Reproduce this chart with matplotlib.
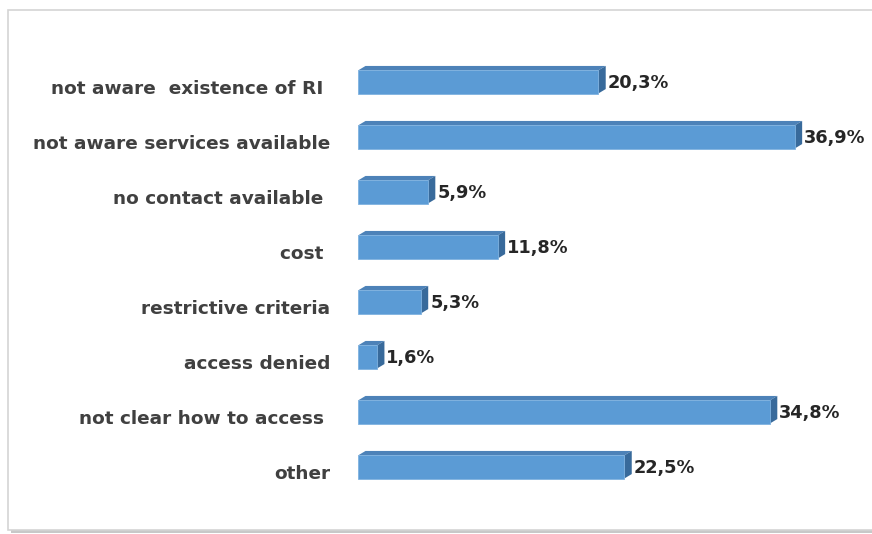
import matplotlib.pyplot as plt
from matplotlib.patches import Polygon, Rectangle

categories = ["not aware  existence of RI ", "not aware services available",
              "no contact available ", "cost ", "restrictive criteria",
              "access denied", "not clear how to access ", "other"]
values = [20.3, 36.9, 5.9, 11.8, 5.3, 1.6, 34.8, 22.5]
value_labels = ["20,3%", "36,9%", "5,9%", "11,8%", "5,3%", "1,6%", "34,8%", "22,5%"]

W, H = 872, 534
fig = plt.figure(figsize=(W / 100, H / 100), dpi=100)

# frame with a soft shadow
fig.patches.append(Rectangle((11 / W, 1 - 533 / H), 1, 523 / H, transform=fig.transFigure,
                             facecolor="#c8c8c8", edgecolor="none", zorder=0))
fig.patches.append(Rectangle((8 / W, 1 - 530 / H), 1, 520 / H, transform=fig.transFigure,
                             facecolor="white", edgecolor="#d4d4d4", lw=1.2, zorder=1))

ax_left, ax_w = 358 / W, 497 / W
ax_top, ax_h = 54.5 / H, 440 / H
ax = fig.add_axes([ax_left, 1 - ax_top - ax_h, ax_w, ax_h])
ax.set_zorder(5)
ax.set_xlim(0, 42)
ax.set_ylim(7.5, -0.5)
ax.axis("off")

px_x = 42 / 497          # data units per pixel
px_y = 8 / 440
dx, dy = 7.5 * px_x, 4.5 * px_y
bh = 0.42

front = "#5b9bd5"
top = "#4d82b8"
side = "#386a9b"

for i, v in enumerate(values):
    y0, y1 = i + bh / 2, i - bh / 2   # bottom, top (inverted axis)
    ax.barh(i, v, height=bh, color=front, edgecolor="#7fb2e0", lw=0.6, zorder=3)
    ax.add_patch(Polygon([(0, y1), (v, y1), (v + dx, y1 - dy), (dx, y1 - dy)],
                         closed=True, facecolor=top, edgecolor="none", zorder=2))
    ax.add_patch(Polygon([(v, y1), (v + dx, y1 - dy), (v + dx, y0 - dy), (v, y0)],
                         closed=True, facecolor=side, edgecolor="none", zorder=2))
    ax.text(v + dx + 2 * px_x, i + 1 * px_y, value_labels[i], va="center", ha="left",
            fontsize=12.8, fontweight="bold", color="#262626", family="DejaVu Sans")
    fig.text(330 / W, 1 - (89 + 55 * i) / H, categories[i], ha="right", va="center",
             fontsize=13.3, fontweight="bold", color="#404040", family="DejaVu Sans")

fig.savefig("out.png", dpi=100)
